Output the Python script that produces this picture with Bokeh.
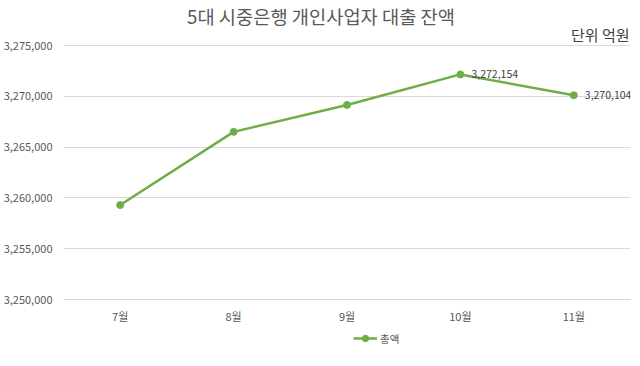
from bokeh.plotting import figure
from bokeh.layouts import column
from bokeh.models import (ColumnDataSource, NumeralTickFormatter, FixedTicker, Label,
                          Legend, LegendItem, Range1d)
from bokeh.embed import file_html
from bokeh.resources import INLINE

months = ["7월", "8월", "9월", "10월", "11월"]
totals = [3259300, 3266500, 3269150, 3272154, 3270104]
label_flags = [False, False, False, True, True]
y_ticks = [3250000, 3255000, 3260000, 3265000, 3270000, 3275000]
title_text = "5대 시중은행 개인사업자 대출 잔액"
unit_text = "단위 억원"
series_name = "총액"

FONT = "Noto Sans CJK KR"
GREEN = "#70AD47"

# layout: the frame reaches the top of the canvas so the heading texts can sit inside it
TOP_PAD_PX, GRID_PX = 45, 254
y_top = y_ticks[-1] + (y_ticks[-1] - y_ticks[0]) * TOP_PAD_PX / GRID_PX

src = ColumnDataSource(dict(x=months, y=totals))

p = figure(frame_width=567, frame_height=TOP_PAD_PX + GRID_PX, x_range=months,
           y_range=Range1d(y_ticks[0], y_top),
           output_backend="svg", toolbar_location=None,
           min_border_left=55, min_border_right=2, min_border_top=0, min_border_bottom=27)
p.x_range.range_padding = 0
p.outline_line_color = None
p.background_fill_color = "white"
p.border_fill_color = "white"

p.xgrid.grid_line_color = None
p.ygrid.grid_line_color = "#D9D9D9"
p.ygrid.grid_line_width = 1

p.yaxis.ticker = FixedTicker(ticks=y_ticks)
p.yaxis.formatter = NumeralTickFormatter(format="0,0")
p.yaxis.axis_line_color = None
p.yaxis.major_tick_line_color = None
p.yaxis.minor_tick_line_color = None
p.yaxis.major_label_text_font = FONT
p.yaxis.major_label_text_font_size = "11px"
p.yaxis.major_label_text_color = "#595959"
p.yaxis.major_label_standoff = 5

p.xaxis.axis_line_color = "#D9D9D9"
p.xaxis.major_tick_line_color = None
p.xaxis.minor_tick_line_color = None
p.xaxis.major_label_text_font = FONT
p.xaxis.major_label_text_font_size = "11px"
p.xaxis.major_label_text_color = "#595959"
p.xaxis.major_label_standoff = 2

line_r = p.line("x", "y", source=src, line_color=GREEN, line_width=2.5)
pts_r = p.scatter("x", "y", source=src, size=7, fill_color=GREEN, line_color=GREEN)

for i, (m, v, f) in enumerate(zip(months, totals, label_flags)):
    if f:
        p.add_layout(Label(x=i + 0.5, y=v, text=f"{v:,}", x_offset=11, y_offset=0,
                           text_font=FONT, text_font_size="10.5px", text_color="#404040",
                           text_baseline="middle", text_align="left"))

p.add_layout(Label(x=len(months) / 2, y=y_top, text=title_text, x_offset=-26, y_offset=-15,
                   text_font=FONT, text_font_size="18.7px", text_color="#595959",
                   text_align="center", text_baseline="middle"))
p.add_layout(Label(x=len(months), y=y_top, text=unit_text, x_offset=-1, y_offset=-34,
                   text_font=FONT, text_font_size="15px", text_color="#404040",
                   text_align="right", text_baseline="middle"))

# legend strip below the chart (same series, drawn out of view so only the key shows)
p2 = figure(width=624, height=24, x_range=p.x_range, y_range=Range1d(0, 1),
            output_backend="svg", toolbar_location=None,
            x_axis_location=None, y_axis_location=None,
            min_border_left=0, min_border_right=0, min_border_top=0, min_border_bottom=0)
p2.grid.grid_line_color = None
p2.outline_line_color = None
l2 = p2.line("x", "y", source=src, line_color=GREEN, line_width=2.5)
s2 = p2.scatter("x", "y", source=src, size=7, fill_color=GREEN, line_color=GREEN)
legend = Legend(items=[LegendItem(label=series_name, renderers=[l2, s2])],
                location=(290, 4), orientation="horizontal",
                label_text_font=FONT, label_text_font_size="10.5px", label_text_color="#595959",
                border_line_color=None, background_fill_alpha=0,
                glyph_width=24, glyph_height=16, label_height=16,
                label_standoff=3, padding=0, margin=0, spacing=0)
p2.add_layout(legend, "center")

layout = column(p, p2, spacing=0)
open("out.html", "w").write(file_html(layout, INLINE))
